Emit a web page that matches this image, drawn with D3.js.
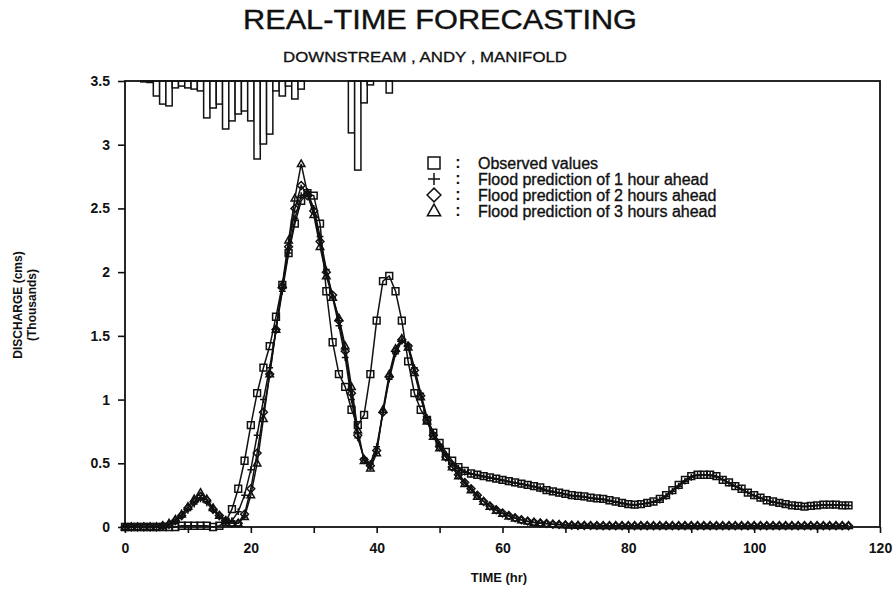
<!DOCTYPE html>
<html><head><meta charset="utf-8">
<script src="https://cdn.jsdelivr.net/npm/d3@7"></script>
<style>body{margin:0;background:#fff}svg{display:block}</style>
</head><body>
<svg id="c" width="896" height="591"></svg>
<script>
// ---------- data ----------
const hours = [0,1,2,3,4,5,6,7,8,9,10,11,12,13,14,15,16,17,18,19,20,21,22,23,24,25,26,27,28,29,
30,31,32,33,34,35,36,37,38,39,40,41,42,43,44,45,46,47,48,49,50,51,52,53,54,55,56,57,58,59,
60,61,62,63,64,65,66,67,68,69,70,71,72,73,74,75,76,77,78,79,80,81,82,83,84,85,86,87,88,89,
90,91,92,93,94,95,96,97,98,99,100,101,102,103,104,105,106,107,108,109,110,111,112,113,114,115];

const observed = [
0,0,0,0,0,0,0,0,0,0.01,
0.01,0.01,0.01,0.01,0,0.01,0.04,0.14,0.30,0.52,
0.80,1.05,1.25,1.42,1.65,1.90,2.15,2.38,2.56,2.62,
2.60,2.38,1.85,1.45,1.20,1.10,0.92,0.80,0.88,1.20,
1.62,1.93,1.97,1.85,1.62,1.30,1.05,0.92,0.84,0.74,
0.66,0.59,0.52,0.47,0.44,0.42,0.41,0.40,0.39,0.38,
0.37,0.36,0.35,0.34,0.33,0.32,0.31,0.29,0.28,0.27,
0.26,0.25,0.245,0.24,0.23,0.225,0.22,0.21,0.20,0.19,
0.18,0.175,0.18,0.19,0.20,0.22,0.25,0.29,0.33,0.37,
0.40,0.41,0.41,0.41,0.40,0.37,0.35,0.32,0.30,0.27,
0.25,0.23,0.21,0.20,0.19,0.18,0.17,0.165,0.16,0.165,
0.17,0.175,0.175,0.175,0.17,0.17];

const pred1h = [
0,0,0,0,0,0,0,0.02,0.04,0.08,
0.13,0.18,0.22,0.19,0.13,0.08,0.04,0.05,0.12,0.25,
0.45,0.72,1.00,1.25,1.55,1.85,2.15,2.42,2.60,2.63,
2.50,2.28,2.02,1.80,1.58,1.33,1.00,0.70,0.54,0.50,
0.63,0.90,1.16,1.36,1.46,1.43,1.25,1.05,0.86,0.74,
0.65,0.57,0.50,0.46,0.43,0.415,0.405,0.395,0.385,0.375,
0.365,0.355,0.345,0.335,0.325,0.315,0.30,0.285,0.275,0.265,
0.255,0.245,0.24,0.235,0.225,0.22,0.215,0.205,0.195,0.185,
0.175,0.172,0.178,0.185,0.195,0.212,0.24,0.28,0.32,0.36,
0.39,0.405,0.41,0.405,0.395,0.37,0.345,0.32,0.295,0.27,
0.245,0.225,0.21,0.195,0.185,0.175,0.168,0.162,0.16,0.162,
0.168,0.172,0.175,0.172,0.17,0.168];

const pred2h = [
0,0,0,0,0,0,0.01,0.02,0.05,0.09,
0.15,0.20,0.24,0.21,0.14,0.09,0.05,0.03,0.03,0.10,
0.30,0.58,0.90,1.20,1.55,1.88,2.20,2.50,2.68,2.60,
2.48,2.24,2.00,1.82,1.62,1.38,1.05,0.72,0.53,0.48,
0.60,0.90,1.18,1.38,1.47,1.42,1.23,1.03,0.84,0.72,
0.63,0.55,0.47,0.41,0.35,0.30,0.25,0.20,0.165,0.135,
0.11,0.09,0.072,0.057,0.046,0.038,0.032,0.027,0.022,0.019,
0.016,0.014,0.012,0.012,0.011,0.011,0.01,0.01,0.01,0.01,
0.01,0.01,0.01,0.01,0.01,0.01,0.01,0.01,0.01,0.01,
0.01,0.01,0.01,0.01,0.01,0.01,0.01,0.01,0.01,0.01,
0.01,0.01,0.01,0.01,0.01,0.01,0.01,0.01,0.01,0.01,
0.01,0.01,0.01,0.01,0.01,0.01];

const pred3h = [
0,0,0,0,0,0,0.01,0.03,0.06,0.10,
0.16,0.22,0.27,0.22,0.15,0.09,0.05,0.03,0.03,0.08,
0.25,0.50,0.85,1.20,1.55,1.90,2.25,2.58,2.85,2.62,
2.45,2.20,1.97,1.80,1.64,1.42,1.10,0.76,0.52,0.46,
0.58,0.92,1.20,1.40,1.48,1.41,1.21,1.02,0.83,0.71,
0.62,0.55,0.47,0.40,0.34,0.29,0.24,0.20,0.16,0.13,
0.105,0.085,0.068,0.054,0.044,0.036,0.03,0.025,0.021,0.018,
0.015,0.013,0.012,0.011,0.011,0.01,0.01,0.01,0.01,0.01,
0.01,0.01,0.01,0.01,0.01,0.01,0.01,0.01,0.01,0.01,
0.01,0.01,0.01,0.01,0.01,0.01,0.01,0.01,0.01,0.01,
0.01,0.01,0.01,0.01,0.01,0.01,0.01,0.01,0.01,0.01,
0.01,0.01,0.01,0.01,0.01,0.01];

// rainfall hyetograph (hanging from top), arbitrary mm/hr
const rainHours  = [3,4,5,6,7,8,9,10,11,12,13,14,15,16,17,18,19,20,21,22,23,24,25,26,27,28,36,37,38,39,42];
const rainValues = [0.3,0.5,5,7.7,8.3,2.3,1.7,2.3,2.7,3.3,12.3,9,7.7,16,13.3,11,10,13.3,26,21,17.7,3.3,5,1.7,6,2.7,17.3,29.7,7.3,1.3,4];

const yTicks = [0,0.5,1,1.5,2,2.5,3,3.5];
const xTicks = [0,10,20,30,40,50,60,70,80,90,100,110,120];
const xLabels = [0,20,40,60,80,100,120];

const legendLabels = ["Observed values","Flood prediction of 1 hour ahead","Flood prediction of 2 hours ahead","Flood prediction of 3 hours ahead"];

// ---------- drawing ----------
const INK = "#111";
const FONT = "Liberation Sans, Arial, Helvetica, sans-serif";
const svg = d3.select("#c");
const x = d3.scaleLinear().domain([0,120]).range([125,880]);
const y = d3.scaleLinear().domain([0,3.5]).range([527,81]);
const rainY = d3.scaleLinear().domain([0,30]).range([0,90]);

// title
svg.append("text").attr("x",440).attr("y",29).attr("text-anchor","middle")
  .attr("font-family",FONT).attr("font-size",28).attr("fill",INK)
  .attr("stroke",INK).attr("stroke-width",0.4)
  .attr("textLength",394).attr("lengthAdjust","spacingAndGlyphs")
  .text("REAL-TIME  FORECASTING");
svg.append("text").attr("x",425).attr("y",62).attr("text-anchor","middle")
  .attr("font-family",FONT).attr("font-size",14).attr("fill",INK)
  .attr("stroke",INK).attr("stroke-width",0.3)
  .attr("textLength",284).attr("lengthAdjust","spacingAndGlyphs")
  .text("DOWNSTREAM , ANDY , MANIFOLD");

// rain bars
const bw = x(1)-x(0);
svg.append("g").selectAll("rect")
  .data(rainHours.map((h,i)=>({h:h, r:rainValues[i]})))
  .join("rect")
  .attr("x",d=>x(d.h-0.5)).attr("width",bw)
  .attr("y",y(3.5)).attr("height",d=>rainY(d.r))
  .attr("fill","#fff").attr("stroke",INK).attr("stroke-width",1.5);

// frame
svg.append("rect").attr("x",x(0)).attr("y",y(3.5))
  .attr("width",x(120)-x(0)).attr("height",y(0)-y(3.5))
  .attr("fill","none").attr("stroke",INK).attr("stroke-width",1.8);

// axes
const yAxis = d3.axisLeft(y).tickValues(yTicks).tickSize(7).tickSizeOuter(0).tickPadding(8)
  .tickFormat(d=>d3.format("")(d));
svg.append("g").attr("transform",`translate(${x(0)},0)`).call(yAxis)
  .attr("font-family",FONT).attr("font-size",14).attr("font-weight","bold")
  .call(g=>g.select(".domain").remove())
  .call(g=>g.selectAll("line").attr("stroke",INK).attr("stroke-width",1.6))
  .call(g=>g.selectAll("text").attr("fill",INK));

const xAxis = d3.axisBottom(x).tickValues(xTicks).tickSize(6).tickSizeOuter(0).tickPadding(10)
  .tickFormat(d=>xLabels.includes(d)?String(d):"");
svg.append("g").attr("transform",`translate(0,${y(0)})`).call(xAxis)
  .attr("font-family",FONT).attr("font-size",14).attr("font-weight","bold")
  .call(g=>g.select(".domain").remove())
  .call(g=>g.selectAll("line").attr("stroke",INK).attr("stroke-width",1.6))
  .call(g=>g.selectAll("text").attr("fill",INK));

// axis titles
svg.append("text").attr("x",499).attr("y",582).attr("text-anchor","middle")
  .attr("font-family",FONT).attr("font-size",13).attr("font-weight","bold").attr("fill",INK)
  .text("TIME (hr)");
svg.append("text").attr("transform","translate(22,305) rotate(-90)").attr("text-anchor","middle")
  .attr("font-family",FONT).attr("font-size",12).attr("font-weight","bold").attr("fill",INK)
  .text("DISCHARGE (cms)");
svg.append("text").attr("transform","translate(36,305) rotate(-90)").attr("text-anchor","middle")
  .attr("font-family",FONT).attr("font-size",12).attr("font-weight","bold").attr("fill",INK)
  .text("(Thousands)");

// markers
const shapes = {
  square:  s=>`M${-s},${-s}h${2*s}v${2*s}h${-2*s}Z`,
  plus:    s=>`M${-s},0h${2*s}M0,${-s}v${2*s}`,
  diamond: s=>`M0,${-s*1.15}L${s*1.15},0L0,${s*1.15}L${-s*1.15},0Z`,
  triangle:s=>`M0,${-s*1.15}L${s*1.1},${s*0.8}L${-s*1.1},${s*0.8}Z`
};

const series = [
  {vals:pred3h, shape:"triangle"},
  {vals:pred2h, shape:"diamond"},
  {vals:pred1h, shape:"plus"},
  {vals:observed, shape:"square"}
];
const line = d3.line().x((d,i)=>x(hours[i])).y(d=>y(d));
series.forEach(s=>{
  const g = svg.append("g");
  g.append("path").attr("d",line(s.vals)).attr("fill","none").attr("stroke",INK).attr("stroke-width",1.5);
  g.selectAll("path.m").data(s.vals).join("path").attr("class","m")
    .attr("transform",(d,i)=>`translate(${x(hours[i])},${y(d)})`)
    .attr("d",shapes[s.shape](3.4))
    .attr("fill","none").attr("stroke",INK).attr("stroke-width",1.5);
});

// legend
const legShapes = ["square","plus","diamond","triangle"];
const legY = [163,179,195,211];
const leg = svg.append("g");
legendLabels.forEach((lab,i)=>{
  leg.append("path").attr("transform",`translate(434,${legY[i]})`)
    .attr("d",shapes[legShapes[i]](6)).attr("fill","none").attr("stroke",INK).attr("stroke-width",1.5);
  leg.append("text").attr("x",458).attr("y",legY[i]+5).attr("text-anchor","middle")
    .attr("font-family",FONT).attr("font-size",16).attr("font-weight","bold").attr("fill",INK).text(":");
  leg.append("text").attr("x",478).attr("y",legY[i]+5.5)
    .attr("font-family",FONT).attr("font-size",16).attr("fill",INK)
    .attr("stroke",INK).attr("stroke-width",0.35).text(lab);
});
</script>
</body></html>
